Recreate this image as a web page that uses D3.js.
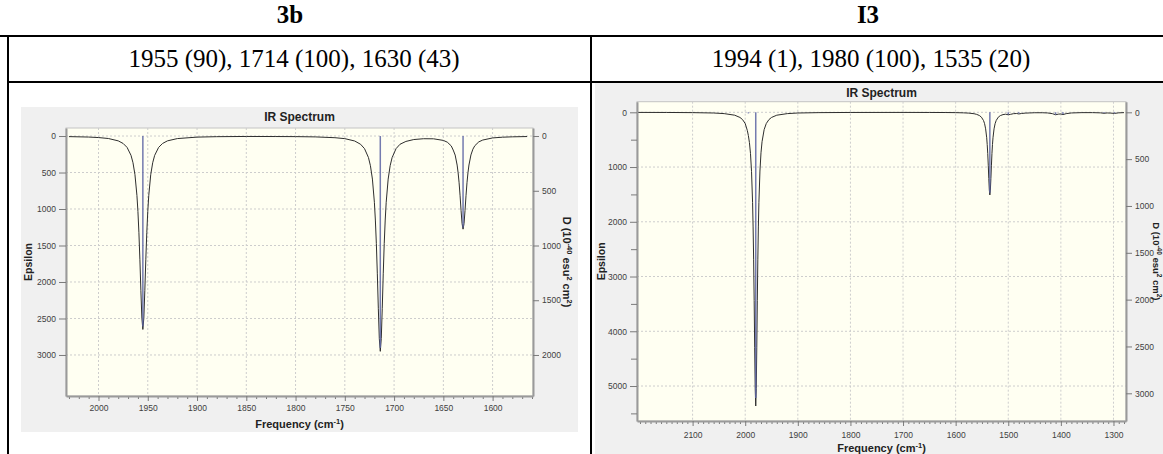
<!DOCTYPE html>
<html><head><meta charset="utf-8">
<script src="https://cdn.jsdelivr.net/npm/d3@7"></script>
<style>
body{margin:0;background:#fff;}
svg{display:block;}
</style></head><body>
<svg id="c" width="1163" height="454"></svg>
<script>
// ---------- data ----------
const headers = ["3b", "I3"];
const peakRows = ["1955 (90), 1714 (100), 1630 (43)", "1994 (1), 1980 (100), 1535 (20)"];

// 3b spectrum (frequency cm-1, epsilon)
const freqA = [2030,2010,2000,1990,1980,1975,1971,1967,1965,1963,1961,1960,1959,1958,1957,1956,1955,1954,1953,1952,1951,1950,1949,1947,1945,1943,1939,1935,1930,1920,1900,1880,1850,1820,1800,1780,1760,1750,1740,1734,1730,1726,1724,1722,1720,1719,1718,1717,1716,1715,1714,1713,1712,1711,1710,1709,1708,1706,1704,1702,1698,1694,1688,1680,1670,1660,1650,1646,1642,1640,1638,1636,1635,1634,1633,1632,1631,1630,1629,1628,1627,1626,1625,1624,1622,1620,1618,1614,1610,1600,1590,1580,1565];
const epsA  = [8,14,21,34,66,102,156,265,366,530,815,1034,1325,1696,2120,2494,2650,2494,2120,1696,1325,1034,815,530,366,265,156,102,66,35,15,9,6,7,8,12,23,36,68,113,173,295,407,590,908,1151,1475,1888,2360,2776,2950,2776,2360,1888,1475,1151,908,590,407,295,173,113,74,48,37,38,60,84,135,192,261,398,503,641,819,1022,1200,1276,1200,1021,818,640,502,397,259,180,132,80,55,26,16,11,7];
const stickFreqA = [1955, 1714, 1630];
const stickDA    = [1740, 1935, 835];
const xTicksA  = [2000,1950,1900,1850,1800,1750,1700,1650,1600];
const yTicksA  = [0,500,1000,1500,2000,2500,3000];
const yMinorA  = [];
const yRTicksA = [0,500,1000,1500,2000];

// I3 spectrum
const freqB = [2205,2150,2100,2060,2040,2020,2010,2005,2000,1996,1994,1992,1990,1988,1986,1985,1984,1983,1982,1981,1980,1979,1978,1977,1976,1975,1974,1972,1970,1968,1964,1960,1955,1950,1940,1920,1900,1860,1800,1700,1650,1620,1600,1585,1575,1565,1560,1555,1551,1547,1545,1543,1541,1540,1539,1538,1537,1536,1535,1534,1533,1532,1531,1530,1529,1527,1525,1523,1519,1515,1510,1505,1500,1496,1490,1484,1480,1475,1468,1460,1450,1435,1425,1416,1410,1405,1400,1396,1390,1380,1360,1340,1325,1318,1312,1305,1298,1290,1280];
const epsB  = [2,3,6,13,24,53,94,134,206,332,425,553,750,1078,1651,2094,2683,3434,4292,5049,5365,5049,4292,3434,2683,2094,1651,1073,740,537,316,206,134,94,53,24,13,6,3,2,3,4,6,10,15,26,38,58,89,151,208,302,465,589,755,966,1208,1421,1510,1421,1208,966,755,589,465,302,208,151,89,60,42,35,45,38,25,22,30,22,15,12,8,8,12,25,45,34,30,42,25,12,6,6,10,18,12,15,20,10,6];
const stickFreqB = [1994, 1980, 1535, 1500, 1480, 1410, 1396, 1318, 1298];
const stickDB    = [12, 3050, 860, 22, 14, 24, 20, 8, 10];
const xTicksB  = [2100,2000,1900,1800,1700,1600,1500,1400,1300];
const yTicksB  = [0,1000,2000,3000,4000,5000];
const yMinorB  = [500,1500,2500,3500,4500,5500];
const yRTicksB = [0,500,1000,1500,2000,2500,3000];

// ---------- layout ----------
const svg = d3.select("#c");
const serif = "'Liberation Serif','Times New Roman',serif";
const sans = "'Liberation Sans',Arial,sans-serif";
const fmt = d3.format("d");

// table lines
const tbl = svg.append("g").attr("stroke","#000").attr("stroke-width",2);
tbl.append("line").attr("x1",0).attr("x2",1163).attr("y1",36).attr("y2",36);
tbl.append("line").attr("x1",8).attr("x2",1163).attr("y1",82).attr("y2",82);
tbl.append("line").attr("x1",8).attr("x2",8).attr("y1",35).attr("y2",454);
tbl.append("line").attr("x1",591).attr("x2",591).attr("y1",35).attr("y2",454);

const headerX = [290, 868];
svg.selectAll(".hdr").data(headers).join("text")
  .attr("x",(d,i)=>headerX[i]).attr("y",23).attr("text-anchor","middle")
  .attr("font-family",serif).attr("font-weight","bold").attr("font-size",25).text(d=>d);
const rowX = [294, 871];
svg.selectAll(".row").data(peakRows).join("text")
  .attr("x",(d,i)=>rowX[i]).attr("y",67).attr("text-anchor","middle")
  .attr("font-family",serif).attr("font-size",25).text(d=>d);

function drawChart(c, d) {
  const g = svg.append("g");
  g.append("rect").attr("x",c.bg[0]).attr("y",c.bg[1]).attr("width",c.bg[2]).attr("height",c.bg[3]).attr("fill","#f0f0f0");
  const [x0,y0,x1,y1] = c.plot;
  const x = d3.scaleLinear().domain(c.xDom).range([x0,x1]);
  const y = d3.scaleLinear().domain(c.yDom).range([y0,y1]);
  const yR = d3.scaleLinear().domain(c.yDom.map(v=>v/c.ratio)).range([y0,y1]);

  g.append("rect").attr("x",x0).attr("y",y0).attr("width",x1-x0).attr("height",y1-y0)
    .attr("fill","#fffff2").attr("stroke","#c4c4c4").attr("stroke-width",1);

  // grid
  g.append("g").selectAll("line").data(d.xTicks).join("line")
    .attr("x1",v=>x(v)).attr("x2",v=>x(v)).attr("y1",y0).attr("y2",y1)
    .attr("stroke","#cdcdcd").attr("stroke-dasharray","2,2");
  g.append("g").selectAll("line").data(d.yTicks).join("line")
    .attr("x1",x0).attr("x2",x1).attr("y1",v=>y(v)).attr("y2",v=>y(v))
    .attr("stroke","#cdcdcd").attr("stroke-dasharray","2,2");

  // curve
  const line = d3.line().x(p=>x(p[0])).y(p=>y(p[1]));
  g.append("path").datum(d3.zip(d.freq,d.eps)).attr("d",line)
    .attr("fill","none").attr("stroke","#2e2e2e").attr("stroke-width",1);

  // sticks
  g.append("g").selectAll("line").data(d3.zip(d.stickF,d.stickD)).join("line")
    .attr("x1",p=>x(p[0])).attr("x2",p=>x(p[0])).attr("y1",yR(0)).attr("y2",p=>yR(p[1]))
    .attr("stroke","#5c64a4").attr("stroke-width",1.5).attr("opacity",0.85);

  const styleAxis = (sel) => {
    sel.select(".domain").attr("stroke","#9a9a9a").attr("stroke-width",2);
    sel.selectAll(".tick line").attr("stroke","#7a7a7a");
    sel.selectAll(".tick text").attr("font-family",sans).attr("font-size",8.5).attr("fill","#404040");
  };

  // left axis
  const aL = g.append("g").attr("transform",`translate(${x0},0)`)
    .call(d3.axisLeft(y).tickValues(d.yTicks).tickFormat(fmt).tickSize(7).tickPadding(3).tickSizeOuter(0));
  styleAxis(aL);
  if (d.yMinor.length) {
    const aLm = g.append("g").attr("transform",`translate(${x0},0)`)
      .call(d3.axisLeft(y).tickValues(d.yMinor).tickSize(6).tickFormat("").tickSizeOuter(0));
    aLm.select(".domain").remove();
    aLm.selectAll(".tick line").attr("stroke","#7a7a7a");
  }
  // right axis
  const aR = g.append("g").attr("transform",`translate(${x1},0)`)
    .call(d3.axisRight(yR).tickValues(d.yRTicks).tickFormat(fmt).tickSize(6).tickPadding(3).tickSizeOuter(0));
  styleAxis(aR);
  // bottom axis
  const minor = d3.range(Math.ceil(c.xDom[1]/10)*10, c.xDom[0], 10).filter(v=>!d.xTicks.includes(v));
  const aBm = g.append("g").attr("transform",`translate(0,${y1})`)
    .call(d3.axisBottom(x).tickValues(minor).tickSize(3).tickFormat("").tickSizeOuter(0));
  aBm.select(".domain").remove();
  aBm.selectAll(".tick line").attr("stroke","#7a7a7a");
  const aB = g.append("g").attr("transform",`translate(0,${y1})`)
    .call(d3.axisBottom(x).tickValues(d.xTicks).tickFormat(fmt).tickSize(5).tickPadding(c.xPad).tickSizeOuter(0));
  styleAxis(aB);

  // titles
  g.append("text").attr("x",(x0+x1)/2).attr("y",c.titleY).attr("text-anchor","middle")
    .attr("font-family",sans).attr("font-weight","bold").attr("font-size",12).attr("fill","#222").text("IR Spectrum");
  g.append("text").attr("transform",`translate(${c.epsX},${(y0+y1)/2}) rotate(-90)`).attr("text-anchor","middle")
    .attr("dy","0.35em").attr("font-family",sans).attr("font-weight","bold").attr("font-size",10.5).attr("fill","#222").text("Epsilon");
  const ft = g.append("text").attr("x",(x0+x1)/2).attr("y",c.xTitleY).attr("text-anchor","middle")
    .attr("font-family",sans).attr("font-weight","bold").attr("font-size",11).attr("fill","#222");
  ft.append("tspan").text("Frequency (cm");
  ft.append("tspan").attr("dy",-4).attr("font-size",7.5).text("-1");
  ft.append("tspan").attr("dy",4).text(")");
  const ds = c.dSize, sup = ds*0.68;
  const dt = g.append("text").attr("transform",`translate(${c.dX},${(y0+y1)/2}) rotate(90)`).attr("text-anchor","middle")
    .attr("dy","0.35em").attr("font-family",sans).attr("font-weight","bold").attr("font-size",ds).attr("fill","#222");
  dt.append("tspan").text("D (10");
  dt.append("tspan").attr("dy",-4).attr("font-size",sup).text("-40");
  dt.append("tspan").attr("dy",4).text(" esu");
  dt.append("tspan").attr("dy",-4).attr("font-size",sup).text("2");
  dt.append("tspan").attr("dy",4).text(" cm");
  dt.append("tspan").attr("dy",-4).attr("font-size",sup).text("2");
  dt.append("tspan").attr("dy",4).text(")");
}

drawChart(
  {bg:[21,107,557,325], plot:[66,128,533,396], xDom:[2033,1559], yDom:[-110,3562], ratio:1.5,
   xPad:4, titleY:121, xTitleY:428, epsX:28, dX:567, dSize:11},
  {freq:freqA, eps:epsA, stickF:stickFreqA, stickD:stickDA, xTicks:xTicksA, yTicks:yTicksA, yMinor:yMinorA, yRTicks:yRTicksA}
);
drawChart(
  {bg:[595,83,568,371], plot:[637,101.7,1126,421], xDom:[2205.7,1276.2], yDom:[-193.6,5639], ratio:1.711,
   xPad:6, titleY:97, xTitleY:452, epsX:601, dX:1156.5, dSize:9.5},
  {freq:freqB, eps:epsB, stickF:stickFreqB, stickD:stickDB, xTicks:xTicksB, yTicks:yTicksB, yMinor:yMinorB, yRTicks:yRTicksB}
);
</script>
</body></html>
